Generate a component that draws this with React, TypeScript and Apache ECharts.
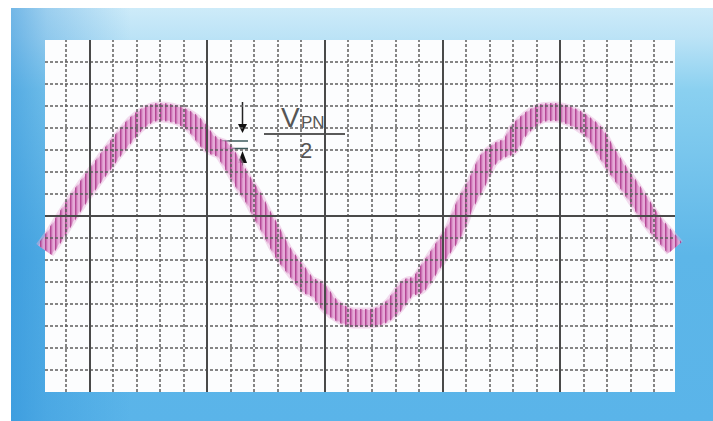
import { useEffect, useRef } from "react";
import * as echarts from "echarts";

// Trace centre line (x in divisions, y in divisions)
const waveX = [-1.91, -1.49, -1.06, -0.51, 0, 0.51, 0.98, 1.49, 1.96, 2.47, 2.94, 3.45, 3.96, 4.47, 4.98, 5.28, 5.62, 5.96, 6.6, 6.94, 7.32, 7.66, 8.21, 8.94, 9.28, 9.7, 10.21, 10.72, 11.28, 11.91, 12.43, 12.85, 13.19, 13.57, 13.96, 14.47, 14.98, 15.53, 15.96, 16.47, 16.94, 17.45, 17.87, 18.21, 18.72, 19.23, 19.79, 20.34, 20.85, 21.49, 22.0, 22.47, 22.98, 23.49, 23.96, 24.47, 24.89];
const waveY = [-1.55, -0.91, -0.18, 0.73, 1.5, 2.23, 2.91, 3.59, 4.18, 4.59, 4.73, 4.68, 4.5, 4.14, 3.45, 3.18, 3.05, 2.55, 1.41, 0.86, 0.09, -0.55, -1.64, -2.68, -3.14, -3.36, -4.05, -4.45, -4.64, -4.64, -4.5, -4.18, -3.73, -3.23, -3.14, -2.36, -1.55, -0.64, 0.5, 1.5, 2.55, 3.0, 3.18, 3.82, 4.36, 4.68, 4.73, 4.59, 4.32, 3.77, 2.86, 2.09, 1.32, 0.5, -0.27, -0.91, -1.45];

const minorX = [-1, 1, 2, 3, 4, 6, 7, 8, 9, 11, 12, 13, 14, 16, 17, 18, 19, 21, 22, 23, 24];
const majorX = [0, 5, 10, 15, 20];
const minorY = [-7, -6, -5, -4, -3, -2, -1, 1, 2, 3, 4, 5, 6, 7];
const majorY = [0];

const labelMain = "V";
const labelSub = "PN";
const labelDen = "2";

function makeStripe() {
  const c = document.createElement("canvas");
  c.width = 5;
  c.height = 4;
  const ctx = c.getContext("2d");
  if (ctx) {
    ctx.clearRect(0, 0, 5, 4);
    ctx.fillStyle = "rgba(170,50,135,0.9)";
    ctx.fillRect(0, 0, 1.5, 4);
    ctx.fillStyle = "rgba(190,80,160,0.5)";
    ctx.fillRect(1.5, 0, 1, 4);
  }
  return c;
}

export default function App() {
  const ref = useRef<HTMLDivElement>(null);
  useEffect(() => {
    if (!ref.current) return;
    const chart = echarts.init(ref.current, undefined, { renderer: "svg" });
    const waveData = waveX.map((x, i) => [x, waveY[i]]);
    const minorStyle = { color: "#5e5e5e", width: 1.5, type: [3, 2] as any };
    const majorStyle = { color: "#4a4a4a", width: 2, type: "solid" as any };
    const ml = (data: any[], style: any) => ({
      silent: true,
      symbol: ["none", "none"],
      label: { show: false },
      emphasis: { disabled: true },
      animation: false,
      lineStyle: style,
      data,
    });
    chart.setOption({
      animation: false,
      backgroundColor: "#ffffff",
      grid: { left: 45, top: 40, width: 630, height: 352 },
      xAxis: {
        type: "value",
        min: -1.9,
        max: 24.9,
        axisLine: { show: false },
        axisTick: { show: false },
        axisLabel: { show: false },
        splitLine: { show: false },
      },
      yAxis: {
        type: "value",
        min: -8,
        max: 8,
        axisLine: { show: false },
        axisTick: { show: false },
        axisLabel: { show: false },
        splitLine: { show: false },
      },
      graphic: [
        {
          type: "rect",
          z: -10,
          shape: { x: 11, y: 8, width: 702, height: 413 },
          style: {
            fill: new echarts.graphic.LinearGradient(0, 0, 0, 1, [
              { offset: 0, color: "#cdebf9" },
              { offset: 0.07, color: "#bce3f6" },
              { offset: 0.2, color: "#8ad0f0" },
              { offset: 0.6, color: "#5db6e8" },
              { offset: 1, color: "#5ab4e9" },
            ]),
          },
        },
        {
          type: "rect",
          z: -9,
          shape: { x: 11, y: 8, width: 120, height: 413 },
          style: {
            fill: new echarts.graphic.LinearGradient(0, 0, 1, 0, [
              { offset: 0, color: "rgba(40,140,215,0.55)" },
              { offset: 0.3, color: "rgba(40,140,215,0.3)" },
              { offset: 1, color: "rgba(40,140,215,0)" },
            ]),
          },
        },
        {
          type: "rect",
          z: -8,
          shape: { x: 45, y: 40, width: 630, height: 352 },
          style: { fill: "#fcfdfe" },
        },
        {
          type: "group",
          z: 100,
          children: [
            { type: "line", shape: { x1: 242.5, y1: 102, x2: 242.5, y2: 125 }, style: { stroke: "#222", lineWidth: 1.5 } },
            { type: "polygon", shape: { points: [[238, 124], [247, 124], [242.5, 133]] }, style: { fill: "#111" } },
            { type: "line", shape: { x1: 220, y1: 141, x2: 248, y2: 141 }, style: { stroke: "#3d5a5c", lineWidth: 1.5 } },
            { type: "line", shape: { x1: 220, y1: 148.5, x2: 248, y2: 148.5 }, style: { stroke: "#3d5a5c", lineWidth: 1.5 } },
            { type: "polygon", shape: { points: [[242.5, 151], [238, 163], [247, 163]] }, style: { fill: "#111" } },
            { type: "line", shape: { x1: 242.5, y1: 163, x2: 242.5, y2: 178 }, style: { stroke: "#333", lineWidth: 1.2 } },
            { type: "text", x: 281, y: 117, style: { text: labelMain, font: '28px "Liberation Sans"', fill: "#555555", verticalAlign: "middle", align: "left" } },
            { type: "text", x: 301, y: 122, style: { text: labelSub, font: '17px "Liberation Sans"', fill: "#555555", verticalAlign: "middle", align: "left" } },
            { type: "line", shape: { x1: 264, y1: 134, x2: 345, y2: 134 }, style: { stroke: "#5a5a5a", lineWidth: 2 } },
            { type: "text", x: 306, y: 150, style: { text: labelDen, font: '22px "Liberation Sans"', fill: "#555555", verticalAlign: "middle", align: "center" } },
          ],
        },
      ],
      series: [
        {
          type: "line",
          name: "grid",
          data: [],
          z: 1,
          markLine: {
            ...ml(
              [
                ...minorX.map((v) => ({ xAxis: v, lineStyle: minorStyle })),
                ...minorY.map((v) => ({ yAxis: v, lineStyle: minorStyle })),
                ...majorX.map((v) => ({ xAxis: v, lineStyle: majorStyle })),
                ...majorY.map((v) => ({ yAxis: v, lineStyle: majorStyle })),
              ],
              minorStyle
            ),
          },
        },
        {
          type: "line",
          name: "halo",
          data: waveData,
          z: 2,
          symbol: "none",
          smooth: 0.3,
          lineStyle: { color: "#e7b0da", width: 21, opacity: 0.45, cap: "butt", join: "round" },
        },
        {
          type: "line",
          name: "trace",
          data: waveData,
          z: 3,
          symbol: "none",
          smooth: 0.3,
          lineStyle: { color: "#e3a0d2", width: 16, opacity: 0.85, cap: "butt", join: "round" },
        },
        {
          type: "line",
          name: "ripple",
          data: waveData,
          z: 4,
          symbol: "none",
          smooth: 0.3,
          lineStyle: {
            color: { image: makeStripe(), repeat: "repeat", imageWidth: 5, imageHeight: 4 } as any,
            width: 18,
            opacity: 0.9,
            cap: "butt",
            join: "round",
          },
        },
      ],
    });
    return () => chart.dispose();
  }, []);
  return (
    <div
      ref={ref}
      style={{ position: "fixed", left: 0, top: 0, width: 713, height: 421 }}
    />
  );
}
